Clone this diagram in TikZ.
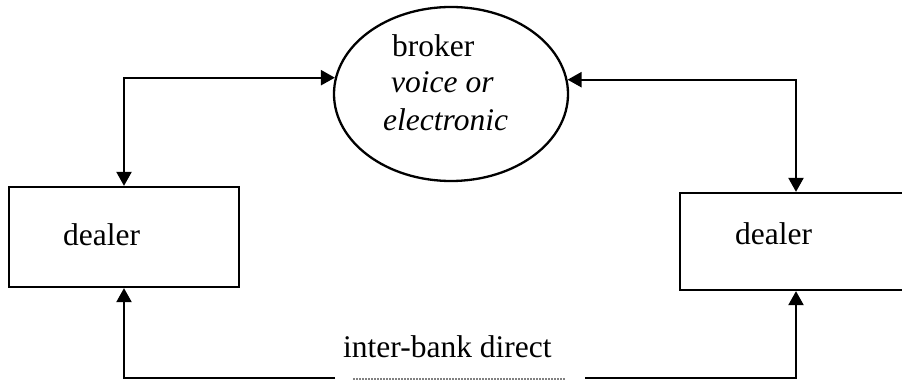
\documentclass[tikz,border=0pt]{standalone}
\usepackage{fontspec}
\setmainfont{Liberation Serif}
\usetikzlibrary{arrows.meta,shapes.geometric}
\begin{document}
\begin{tikzpicture}[x=1pt,y=1pt,
  lbl/.style={inner sep=0pt,anchor=base west,font=\fontsize{31.5}{37}\selectfont},
  boxnode/.style={draw,line width=2.3pt,inner sep=0pt},
  conn/.style={line width=2.3pt,-{Triangle[length=14pt,width=15pt]}},
  conn2/.style={line width=2.3pt,{Triangle[length=14pt,width=15pt]}-{Triangle[length=14pt,width=15pt]}},
  dots/.style={line width=1.8pt,line cap=round,dash pattern=on 0pt off 3pt}]
\useasboundingbox (0,0) rectangle (902,383);
\clip (0,0) rectangle (902,383);
\node[boxnode,minimum width=230pt,minimum height=100pt] (dealerL) at (124,146) {};
\node[boxnode,minimum width=232pt,minimum height=97pt] (dealerR) at (796,141.5) {};
\node[boxnode,ellipse,minimum width=234pt,minimum height=174pt] (broker) at (451,289) {};
\node[lbl] (tbroker) at (392,326) {broker};
\node[lbl] (tvoice) at (391,290) {\itshape voice or};
\node[lbl] (telec) at (383,252) {\itshape electronic};
\node[lbl] (tdl) at (63,137) {dealer};
\node[lbl] (tdr) at (735,138) {dealer};
\node[lbl] (tib) at (343,26) {inter-bank direct};
\coordinate (bl) at (335,5);
\coordinate (br) at (585,5);
\coordinate (dl) at (354,4);
\coordinate (dr) at (565,4);
\draw[conn2] (dealerL.north) |- (broker.172.6);
\draw[conn2] (broker.7.4) -| (dealerR.north);
\draw[conn] (bl) -| (dealerL.south);
\draw[conn] (br) -| (dealerR.south);
\draw[dots] (dl) -- (dr);
\end{tikzpicture}
\end{document}
